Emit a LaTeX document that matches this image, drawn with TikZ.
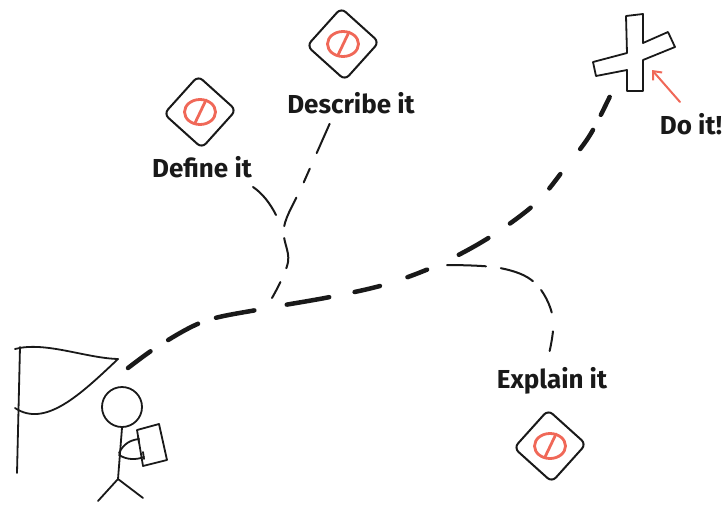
\documentclass[tikz,border=0pt]{standalone}
\usepackage{fontspec}
\setmainfont{Fira Sans}
\usetikzlibrary{arrows.meta}
\definecolor{ink}{RGB}{25,25,25}
\definecolor{markred}{RGB}{240,104,88}
\begin{document}
\begin{tikzpicture}[x=1pt,y=-1pt,
  pen/.style={draw=ink, line width=1.8pt, line cap=round, line join=round},
  road/.style={draw=ink, line width=4.5pt, line cap=round,
    dash pattern=on 28pt off 21pt on 34pt off 19pt on 39pt off 33pt on 43pt off 26pt
      on 26pt off 29pt on 21pt off 35pt on 34pt off 26pt on 26pt off 27pt
      on 18pt off 32pt on 23pt off 17pt on 20pt off 40pt},
  trail/.style={draw=ink, line width=2pt, line cap=round},
  label/.style={font=\bfseries\fontsize{26}{30}\selectfont, text=ink, inner sep=0pt},
  sign/.style={draw=ink, line width=2pt, rounded corners=6pt, minimum size=51pt,
    inner sep=0pt, rotate=48},
  nosign/.pic={
    \draw[markred, line width=2.8pt] (0,0) ellipse (15.5pt and 12.5pt);
    \draw[markred, line width=2.8pt, line cap=round] (-5,11) -- (6,-12);
  }]
\useasboundingbox (0,0) rectangle (723,504);

% signs with their labels
\node[sign] (defsign) at (200,112) {};
\pic at (defsign.center) {nosign};
\node[label] (deftext) at (202,167) {Define it};

\node[sign] (dscsign) at (343,44) {};
\pic at (dscsign.center) {nosign};
\node[label] (dsctext) at (351,103) {Describe it};

\node[sign] (expsign) at (550,446) {};
\pic at (expsign.center) {nosign};
\node[label] (exptext) at (552,381) {Explain it};

\node[label] (dotext) at (691,124) {Do it!};

% goal cross
\draw[pen] (626,16) -- (643,14) -- (643,43) -- (668,32) -- (675,47) -- (643,60)
  -- (643,91) -- (627,91) -- (627,70) -- (596,76) -- (593,62) -- (627,53) -- cycle;
\coordinate (goal) at (612,92);
\coordinate (arrowtail) at (680,102);
\coordinate (arrowtip) at (652,70);
\draw[markred, line width=2pt, line cap=round, -{Straight Barb[length=7pt,width=12pt]}]
  (arrowtail) -- (arrowtip);

% flag
\coordinate (poletop) at (20,347);
\coordinate (polefoot) at (17,473);
\coordinate (flagtip) at (118,359);
\draw[pen] (poletop) -- (polefoot);
\draw[pen] (15,349) .. controls (45,341) and (85,358) .. (flagtip);
\draw[pen] (15,408) .. controls (45,428) and (80,395) .. (flagtip);

% walker
\node[pen, circle, minimum size=40pt, inner sep=0pt] (head) at (122,407) {};
\coordinate (hip) at (118,479);
\draw[pen] (head.south) -- (hip);
\draw[pen] (hip) -- (98,501);
\draw[pen] (hip) -- (143,498);
\draw[pen] (137,430) -- (159,424) -- (167,460) -- (143,466) -- cycle;
\draw[pen] (119,453) .. controls (124,443) and (131,440) .. (139,439);
\draw[pen] (119,455) .. controls (127,460) and (136,460) .. (144,457);
\draw[pen] (138,436) -- (139,443);
\draw[pen] (143,452) -- (144,459);

% main road
\coordinate (start) at (128,368);
\coordinate (r1) at (160,345);
\coordinate (r2) at (205,321);
\coordinate (fork) at (262,309);
\coordinate (r3) at (330,297);
\coordinate (r4) at (387,284);
\coordinate (split) at (440,264);
\coordinate (r5) at (490,237);
\coordinate (r6) at (536,203);
\coordinate (r7) at (565,168);
\coordinate (r8) at (590,135);
\draw[road] plot[smooth, tension=0.55] coordinates
  {(start) (r1) (r2) (fork) (r3) (r4) (split) (r5) (r6) (r7) (r8) (goal)};

% side trails
\coordinate (forkout) at (272,298);
\coordinate (stem) at (288,262);
\coordinate (ybranch) at (284,227);
\coordinate (d1) at (303,184);
\coordinate (dscend) at (330,123);
\draw[trail, dash pattern=on 18pt off 15pt on 31pt off 12pt on 31pt off 17pt on 15pt off 17pt on 32pt off 20pt]
  plot[smooth, tension=0.6] coordinates {(forkout) (stem) (ybranch) (d1) (dscend)};
\coordinate (defstart) at (276,215);
\coordinate (defend) at (253,187);
\draw[trail] (defstart) .. controls (270,203) and (262,193) .. (defend);

\coordinate (e0) at (447,265);
\coordinate (e1) at (500,268);
\coordinate (e2) at (535,283);
\coordinate (e3) at (553,318);
\coordinate (expend) at (548,358);
\draw[trail, dash pattern=on 39pt off 15pt on 35pt off 12pt on 25pt off 19pt on 20pt off 20pt]
  plot[smooth, tension=0.6] coordinates {(e0) (e1) (e2) (e3) (expend)};
\end{tikzpicture}
\end{document}
